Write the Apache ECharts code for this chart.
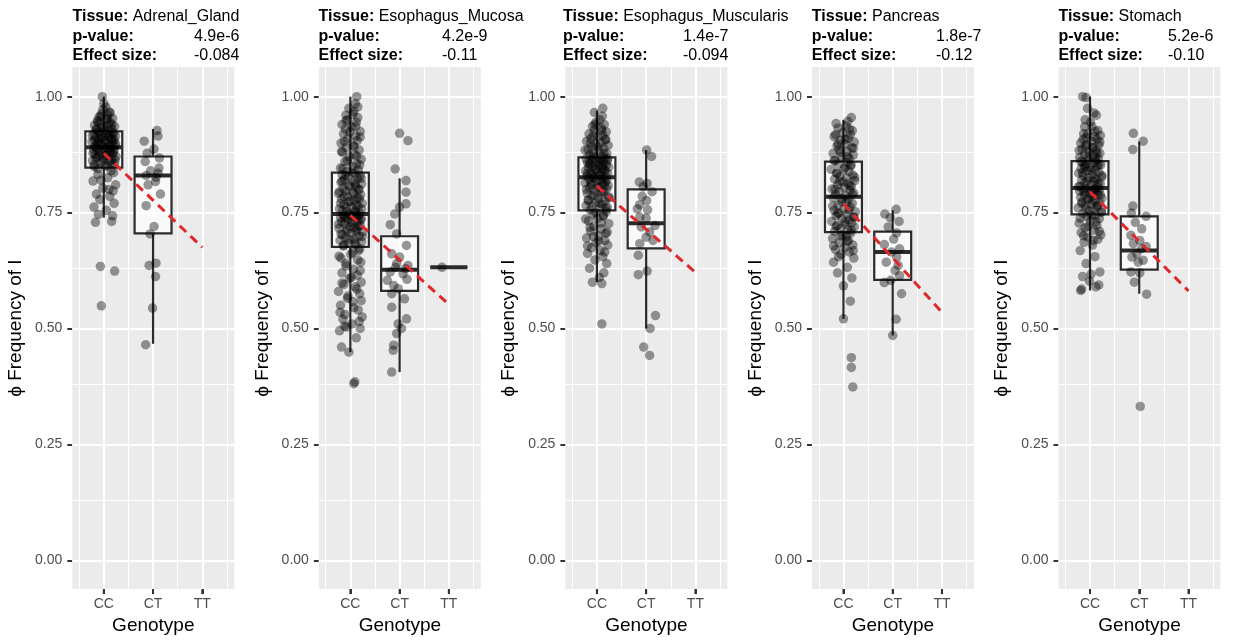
<!DOCTYPE html>
<html><head><meta charset="utf-8">
<script src="https://cdn.jsdelivr.net/npm/echarts@6/dist/echarts.min.js"></script>
<style>html,body{margin:0;padding:0;background:#fff}#c{width:1237px;height:640px}</style>
</head><body><div id="c"></div>
<script>
// ---------------- DATA ----------------
const genotypes = ['CC', 'CT', 'TT'];
const tissues = ['Adrenal_Gland', 'Esophagus_Mucosa', 'Esophagus_Muscularis', 'Pancreas', 'Stomach'];
const pValues = ['4.9e-6', '4.2e-9', '1.4e-7', '1.8e-7', '5.2e-6'];
const effectSizes = ['-0.084', '-0.11', '-0.094', '-0.12', '-0.10'];
const yTicks = [0, 0.25, 0.5, 0.75, 1];
const yMinor = [0.125, 0.375, 0.625, 0.875];
const xTicks = [1, 2, 3];
const xMinor = [0.5, 1.5, 2.5, 3.5];
const Y_MIN = -0.062, Y_MAX = 1.064, X_MIN = 0.36, X_MAX = 3.65;

// box stats: [genotype index, lower whisker, Q1, median, Q3, upper whisker]
const adrenalBoxes = [[1, 0.739, 0.847, 0.891, 0.925, 1.000], [2, 0.467, 0.705, 0.830, 0.871, 0.930]];
const mucosaBoxes = [[1, 0.449, 0.676, 0.747, 0.836, 1.000], [2, 0.406, 0.581, 0.627, 0.699, 0.824], [3, 0.632, 0.632, 0.632, 0.632, 0.632]];
const muscularisBoxes = [[1, 0.600, 0.755, 0.826, 0.869, 0.970], [2, 0.500, 0.673, 0.727, 0.800, 0.885]];
const pancreasBoxes = [[1, 0.521, 0.708, 0.784, 0.860, 0.950], [2, 0.485, 0.605, 0.665, 0.709, 0.755]];
const stomachBoxes = [[1, 0.582, 0.746, 0.803, 0.861, 1.000], [2, 0.575, 0.627, 0.668, 0.742, 0.903]];

// dashed trend line: [genotype position, value]
const adrenalFit = [[1, 0.878], [3, 0.675]];
const mucosaFit = [[1, 0.744], [3, 0.552]];
const muscularisFit = [[1, 0.807], [3, 0.621]];
const pancreasFit = [[1, 0.769], [3, 0.535]];
const stomachFit = [[1, 0.795], [3, 0.581]];

// individual samples: values and horizontal jitter offsets
const adrenalCC_y = [0.549,0.624,0.634,0.729,0.731,0.743,0.746,0.755,0.762,0.770,0.778,0.785,0.790,0.797,0.803,0.810,0.818,0.825,0.832,0.840,
0.849,0.852,0.855,0.857,0.860,0.862,0.865,0.867,0.869,0.871,0.873,0.875,0.877,0.879,0.881,0.883,0.885,0.887,0.889,0.890,
0.892,0.894,0.896,0.898,0.900,0.901,0.903,0.905,0.907,0.909,0.910,0.912,0.914,0.915,0.917,0.918,0.920,0.921,0.923,0.924,
0.927,0.929,0.931,0.934,0.936,0.938,0.940,0.943,0.945,0.948,0.950,0.953,0.956,0.960,0.963,0.967,0.972,0.978,0.985,1.000];
const adrenalCC_dx = [-0.05,0.22,-0.07,-0.17,0.16,0.18,-0.11,0.05,-0.20,0.21,-0.08,0.12,-0.15,0.19,-0.02,0.24,-0.22,0.08,-0.12,0.15,
-0.19,0.03,0.22,-0.07,0.11,-0.23,0.17,-0.01,-0.14,0.25,0.06,-0.18,0.13,-0.05,0.20,-0.10,0.09,-0.21,0.16,0.01,
-0.16,0.23,-0.04,0.10,-0.13,0.18,-0.24,0.04,0.21,-0.09,0.14,-0.17,0.00,0.24,-0.06,0.12,-0.20,0.07,0.19,-0.11,
0.02,-0.15,0.16,-0.03,0.22,-0.19,0.09,-0.08,0.13,-0.13,0.05,0.18,-0.10,0.08,-0.05,0.11,-0.02,0.04,0.00,-0.03];
const adrenalCC2_y = [0.80,0.82,0.836,0.845,0.85,0.853,0.858,0.861,0.864,0.868,0.872,0.874,0.876,0.878,0.882,0.884,0.886,0.888,0.891,0.893,
0.895,0.897,0.899,0.902,0.904,0.906,0.908,0.911,0.913,0.916,0.919,0.922,0.926,0.93,0.935,0.94,0.946,0.952,0.958,0.965];
const adrenalCC2_dx = [0.1,-0.06,0.2,-0.12,0.07,-0.2,0.15,-0.03,0.23,-0.16,0.04,-0.09,0.18,-0.22,0.12,-0.01,0.21,-0.14,0.06,-0.18,
0.14,-0.07,0.24,-0.11,0.02,-0.19,0.17,-0.04,0.09,-0.23,0.19,-0.08,0.11,-0.15,0.0,0.16,-0.12,0.07,-0.06,0.13];
const adrenalCT_y = [0.465,0.544,0.612,0.636,0.641,0.704,0.720,0.765,0.790,0.810,0.817,0.826,0.830,0.835,0.840,0.846,0.860,0.868,0.878,0.887,0.904,0.915,0.927];
const adrenalCT_dx = [-0.15,-0.01,0.05,-0.08,0.06,-0.06,0.02,-0.14,0.15,-0.10,0.05,0.06,-0.14,0.10,-0.05,0.12,-0.16,0.13,-0.12,0.02,-0.18,0.10,0.08];

const mucosaCC_y = [0.381,0.385,0.449,0.460,0.480,0.495,0.500,0.503,0.510,0.520,0.525,0.530,0.540,0.550,0.558,0.565,0.575,0.580,0.590,0.595,0.600,0.608,0.615,0.620,0.628,0.635,0.643,0.652,0.660,0.668,
0.678,0.681,0.684,0.687,0.690,0.693,0.696,0.699,0.702,0.705,0.708,0.710,0.713,0.716,0.718,0.720,0.723,0.726,0.728,0.730,0.732,0.735,0.737,0.739,0.740,0.742,0.743,0.744,0.745,0.746,
0.749,0.752,0.755,0.758,0.761,0.764,0.767,0.770,0.773,0.776,0.779,0.782,0.785,0.788,0.791,0.794,0.797,0.800,0.803,0.806,0.809,0.812,0.815,0.818,0.821,0.824,0.827,0.830,0.832,0.835,
0.838,0.842,0.846,0.850,0.855,0.860,0.865,0.870,0.875,0.880,0.885,0.890,0.895,0.900,0.905,0.910,0.915,0.920,0.925,0.930,0.935,0.940,0.945,0.950,0.955,0.960,0.968,0.975,0.985,1.000];
const mucosaCC_dx = [0.07,0.09,-0.03,-0.18,0.12,-0.22,0.20,-0.08,0.03,-0.15,0.24,-0.11,0.16,-0.2,0.05,-0.06,0.19,-0.24,0.1,-0.13,0.22,-0.02,0.14,-0.17,0.06,-0.09,0.21,-0.19,0.01,0.17,
-0.14,0.11,-0.04,0.23,-0.21,0.08,-0.1,0.18,-0.16,0.02,0.25,-0.07,0.13,-0.23,0.09,-0.01,0.2,-0.12,0.04,-0.18,0.15,-0.05,0.22,-0.2,0.07,-0.11,0.17,-0.15,0.0,0.12,
0.19,-0.08,0.1,-0.22,0.03,0.16,-0.13,0.24,-0.03,0.08,-0.18,0.14,-0.06,0.21,-0.24,0.05,-0.1,0.18,-0.15,0.11,-0.01,0.23,-0.19,0.06,-0.12,0.15,-0.04,0.2,-0.17,0.09,
-0.07,0.16,-0.2,0.04,0.13,-0.11,0.22,-0.02,0.09,-0.16,0.18,-0.08,0.06,-0.19,0.14,-0.05,0.11,-0.14,0.2,-0.1,0.03,-0.17,0.12,-0.06,0.15,-0.09,0.07,-0.03,0.1,0.13];
const mucosaCC2_y = [0.505,0.515,0.535,0.545,0.56,0.57,0.585,0.598,0.61,0.625,0.64,0.648,0.656,0.664,0.672,0.68,0.686,0.692,0.698,0.704,
0.71,0.715,0.72,0.725,0.73,0.734,0.738,0.742,0.746,0.75,0.754,0.758,0.762,0.766,0.77,0.775,0.78,0.785,0.79,0.795,
0.8,0.806,0.812,0.818,0.824,0.83,0.837,0.845,0.853,0.862,0.872,0.882,0.892,0.903,0.913,0.924,0.936,0.948,0.962,0.978];
const mucosaCC2_dx = [-0.12,0.18,-0.21,0.07,0.22,-0.05,0.13,-0.17,0.02,0.2,-0.09,0.15,-0.23,0.05,0.19,-0.14,0.09,-0.02,0.24,-0.19,
0.11,-0.07,0.17,-0.24,0.03,0.21,-0.11,0.14,-0.04,0.08,-0.16,0.23,-0.08,0.12,-0.2,0.0,0.18,-0.13,0.06,-0.22,
0.16,-0.03,0.1,-0.17,0.22,-0.1,0.04,-0.15,0.19,-0.06,0.13,-0.18,0.08,-0.12,0.2,-0.01,0.11,-0.09,0.05,0.15];
const mucosaCT_y = [0.406,0.453,0.464,0.489,0.500,0.510,0.521,0.546,0.564,0.575,0.586,0.593,0.604,0.606,0.618,0.622,0.629,0.632,0.636,0.640,0.654,0.661,0.679,0.704,0.724,0.747,0.762,0.769,0.794,0.819,0.844,0.905,0.921];
const mucosaCT_dx = [-0.16,-0.13,-0.12,-0.06,0.04,-0.03,0.14,-0.16,0.10,-0.16,-0.03,-0.12,-0.25,0.15,0.07,-0.19,0.12,-0.08,0.17,-0.06,0.00,-0.16,0.14,-0.06,-0.19,-0.10,0.00,0.13,0.13,0.13,-0.09,0.17,0.00];
const mucosaTT_y = [0.632];
const mucosaTT_dx = [-0.14];

const muscularisCC_y = [0.510,0.597,0.600,0.610,0.620,0.630,0.640,0.648,0.655,0.662,0.668,0.674,0.680,0.685,0.690,0.695,0.700,0.705,0.710,0.715,0.720,0.726,0.732,0.738,0.742,0.747,0.752,
0.756,0.759,0.762,0.765,0.768,0.771,0.774,0.777,0.780,0.783,0.786,0.789,0.792,0.795,0.798,0.801,0.804,0.806,0.808,0.810,0.812,0.814,0.816,0.818,0.820,0.822,0.824,0.825,
0.827,0.829,0.830,0.832,0.834,0.835,0.837,0.839,0.840,0.842,0.843,0.845,0.847,0.848,0.850,0.852,0.853,0.855,0.856,0.858,0.860,0.861,0.862,0.864,0.865,0.866,0.867,0.868,
0.871,0.874,0.877,0.880,0.883,0.886,0.889,0.892,0.895,0.898,0.901,0.904,0.907,0.910,0.913,0.916,0.920,0.924,0.928,0.932,0.936,0.940,0.945,0.950,0.958,0.966,0.975];
const muscularisCC_dx = [0.10,0.10,-0.09,0.05,0.14,-0.15,0.2,-0.04,0.12,-0.19,0.07,-0.11,0.22,-0.02,0.16,-0.21,0.03,0.18,-0.13,0.09,-0.06,0.24,-0.17,0.01,0.13,-0.08,0.19,
-0.14,0.06,0.21,-0.22,0.11,-0.03,0.16,-0.18,0.02,0.25,-0.1,0.08,-0.2,0.14,-0.05,0.2,-0.15,0.04,0.23,-0.12,0.1,-0.24,0.17,-0.01,0.07,-0.16,0.12,-0.07,
0.18,-0.2,0.05,-0.09,0.22,-0.13,0.09,0.0,-0.23,0.15,-0.04,0.11,-0.17,0.24,-0.08,0.03,0.19,-0.14,0.07,-0.19,0.13,-0.02,0.21,-0.11,0.06,-0.22,0.16,-0.06,
0.1,-0.15,0.2,-0.07,0.04,-0.18,0.14,-0.1,0.23,-0.03,0.08,-0.21,0.17,-0.12,0.02,0.12,-0.16,0.19,-0.05,0.09,-0.09,0.15,-0.02,0.06,0.11,-0.05,0.12];
const muscularisCC2_y = [0.665,0.678,0.688,0.698,0.708,0.718,0.728,0.736,0.744,0.75,0.758,0.764,0.77,0.776,0.782,0.788,0.794,0.8,0.805,0.81,
0.815,0.82,0.825,0.83,0.835,0.84,0.845,0.85,0.855,0.86,0.866,0.872,0.878,0.885,0.892,0.9,0.908,0.917,0.927,0.94];
const muscularisCC2_dx = [0.16,-0.19,0.04,-0.07,0.21,-0.14,0.09,-0.23,0.13,-0.02,0.19,-0.1,0.06,-0.17,0.24,-0.05,0.11,-0.21,0.01,0.15,
-0.12,0.2,-0.06,0.08,-0.19,0.17,-0.03,0.12,-0.15,0.05,0.22,-0.09,0.14,-0.24,0.03,-0.13,0.18,-0.07,0.1,-0.04];
const muscularisCT_y = [0.442,0.460,0.500,0.528,0.616,0.624,0.658,0.683,0.690,0.697,0.708,0.719,0.722,0.738,0.740,0.756,0.758,0.767,0.776,0.785,0.795,0.806,0.813,0.816,0.871,0.885];
const muscularisCT_dx = [0.07,-0.05,0.08,0.19,-0.16,0.02,-0.16,-0.13,0.14,0.00,0.07,-0.10,0.18,0.00,-0.13,0.03,-0.18,-0.13,0.01,-0.08,0.12,-0.06,0.02,-0.14,0.11,0.01];

const pancreasCC_y = [0.374,0.416,0.437,0.521,0.559,0.592,0.609,0.620,0.632,0.643,0.652,0.660,0.665,0.670,0.675,0.680,0.685,0.690,0.694,0.698,0.702,0.706,
0.710,0.713,0.716,0.719,0.722,0.725,0.728,0.731,0.734,0.737,0.740,0.743,0.746,0.749,0.752,0.755,0.758,0.762,0.766,0.770,0.774,0.778,0.782,
0.786,0.789,0.792,0.795,0.798,0.801,0.804,0.807,0.810,0.813,0.816,0.819,0.822,0.825,0.828,0.831,0.835,0.839,0.843,0.847,0.851,0.855,0.858,
0.862,0.866,0.870,0.874,0.878,0.882,0.886,0.890,0.894,0.898,0.902,0.906,0.910,0.914,0.918,0.922,0.927,0.932,0.937,0.942,0.947,0.955];
const pancreasCC_dx = [0.19,0.16,0.16,0.0,0.14,0.0,0.17,-0.12,0.08,-0.2,0.21,-0.05,0.12,-0.16,0.03,0.19,-0.09,0.1,-0.22,0.06,-0.02,0.15,
-0.18,0.09,-0.06,0.22,-0.13,0.04,0.17,-0.24,0.11,-0.03,0.2,-0.15,0.07,-0.09,0.24,-0.19,0.01,0.14,-0.11,0.18,-0.04,0.1,-0.21,
0.05,-0.16,0.21,-0.08,0.13,-0.23,0.02,0.16,-0.12,0.09,-0.01,0.23,-0.18,0.06,-0.07,0.19,-0.14,0.11,-0.25,0.03,0.15,-0.1,0.08,
-0.17,0.12,-0.04,0.2,-0.21,0.07,-0.09,0.17,-0.13,0.04,0.22,-0.06,0.1,-0.19,0.14,-0.02,0.18,-0.11,0.05,-0.15,0.09,0.16];
const pancreasCC2_y = [0.655,0.668,0.678,0.688,0.7,0.712,0.72,0.73,0.74,0.748,0.756,0.764,0.772,0.78,0.79,0.8,0.808,0.817,0.826,0.835,
0.844,0.853,0.862,0.871,0.88,0.889,0.898,0.908,0.918,0.93];
const pancreasCC2_dx = [-0.1,0.2,-0.2,0.08,-0.05,0.16,-0.15,0.03,0.22,-0.12,0.11,-0.22,0.06,-0.03,0.18,-0.17,0.13,-0.08,0.23,-0.13,
0.01,0.15,-0.19,0.09,-0.06,0.2,-0.11,0.04,-0.16,0.12];
const pancreasCT_y = [0.485,0.520,0.575,0.599,0.604,0.614,0.625,0.636,0.643,0.654,0.665,0.672,0.681,0.693,0.706,0.719,0.731,0.739,0.747,0.757];
const pancreasCT_dx = [0.00,0.07,0.18,-0.17,-0.04,0.14,0.05,0.11,-0.13,0.08,-0.02,0.14,-0.17,0.02,0.08,-0.09,0.13,-0.05,-0.16,0.07];

const stomachCC_y = [0.582,0.585,0.590,0.594,0.602,0.612,0.617,0.622,0.640,0.655,0.668,0.680,0.686,0.692,0.697,0.702,0.707,0.712,0.717,0.722,0.727,0.732,0.737,0.741,0.744,
0.748,0.751,0.754,0.757,0.760,0.763,0.766,0.768,0.771,0.773,0.776,0.778,0.781,0.783,0.786,0.788,0.790,0.792,0.794,0.796,0.798,0.799,0.800,0.801,0.802,
0.805,0.807,0.810,0.812,0.815,0.817,0.820,0.822,0.825,0.827,0.830,0.832,0.835,0.837,0.840,0.842,0.845,0.847,0.849,0.851,0.853,0.855,0.857,0.859,0.860,
0.863,0.866,0.869,0.872,0.875,0.878,0.881,0.884,0.887,0.890,0.893,0.896,0.900,0.904,0.908,0.912,0.916,0.920,0.925,0.935,0.950,0.965,0.975,0.998,1.000];
const stomachCC_dx = [-0.19,-0.17,0.12,0.18,-0.01,-0.15,0.02,0.2,-0.08,0.1,-0.2,0.05,-0.12,0.16,-0.04,0.22,-0.18,0.08,-0.1,0.14,-0.22,0.01,0.19,-0.06,0.11,
-0.14,0.23,-0.02,0.07,-0.24,0.15,-0.09,0.03,0.2,-0.16,0.1,-0.05,0.24,-0.19,0.06,-0.11,0.17,-0.01,0.12,-0.21,0.04,0.19,-0.13,0.09,-0.07,
0.16,-0.2,0.02,0.21,-0.1,0.08,-0.17,0.13,-0.03,0.24,-0.14,0.05,-0.23,0.18,-0.06,0.1,-0.18,0.0,0.15,-0.12,0.22,-0.08,0.07,-0.15,0.12,
-0.04,0.17,-0.21,0.09,-0.11,0.2,-0.02,0.13,-0.16,0.06,-0.09,0.18,-0.19,0.03,0.14,-0.07,0.21,-0.13,0.1,0.04,-0.1,0.08,-0.05,-0.08,-0.15];
const stomachCC2_y = [0.69,0.7,0.71,0.72,0.73,0.738,0.745,0.752,0.758,0.764,0.77,0.776,0.782,0.788,0.794,0.8,0.806,0.812,0.818,0.824,
0.83,0.836,0.842,0.848,0.854,0.86,0.866,0.872,0.878,0.884,0.89,0.896,0.902,0.908,0.914,0.92,0.927,0.935,0.945,0.96];
const stomachCC2_dx = [0.07,-0.13,0.19,-0.04,0.12,-0.2,0.03,0.23,-0.09,0.15,-0.17,0.05,-0.02,0.21,-0.12,0.1,-0.23,0.17,-0.06,0.08,
0.24,-0.15,0.02,-0.1,0.18,-0.19,0.11,-0.03,0.14,-0.22,0.06,-0.08,0.2,-0.14,0.09,-0.05,0.16,-0.11,0.01,0.13];
const stomachCT_y = [0.332,0.574,0.600,0.620,0.622,0.643,0.647,0.654,0.661,0.672,0.677,0.683,0.690,0.701,0.715,0.729,0.742,0.749,0.764,0.886,0.904,0.921];
const stomachCT_dx = [0.02,0.15,-0.10,0.01,-0.17,-0.02,0.08,-0.15,-0.05,0.05,0.14,-0.12,0.01,-0.17,0.05,-0.08,0.14,-0.16,-0.13,-0.13,0.08,-0.12];

// ---------------- LAYOUT / STYLE ----------------
const FONT = "'Liberation Sans', Arial, Helvetica, sans-serif";
const PANEL_LEFT0 = 72.3, PANEL_STEP = 246.55, PANEL_W = 162, PANEL_TOP = 67, PANEL_H = 523;
const TITLE_X = [72.5, 318.5, 563, 811.8, 1058.4];
const VALUE_X = [194, 442, 683, 936, 1168];
const TITLE_Y = [16.5, 36.5, 56];

const panels = [
  { boxes: adrenalBoxes, fit: adrenalFit, groups: [[1, adrenalCC_y, adrenalCC_dx], [1, adrenalCC2_y, adrenalCC2_dx], [2, adrenalCT_y, adrenalCT_dx]] },
  { boxes: mucosaBoxes, fit: mucosaFit, groups: [[1, mucosaCC_y, mucosaCC_dx], [1, mucosaCC2_y, mucosaCC2_dx], [2, mucosaCT_y, mucosaCT_dx], [3, mucosaTT_y, mucosaTT_dx]] },
  { boxes: muscularisBoxes, fit: muscularisFit, groups: [[1, muscularisCC_y, muscularisCC_dx], [1, muscularisCC2_y, muscularisCC2_dx], [2, muscularisCT_y, muscularisCT_dx]] },
  { boxes: pancreasBoxes, fit: pancreasFit, groups: [[1, pancreasCC_y, pancreasCC_dx], [1, pancreasCC2_y, pancreasCC2_dx], [2, pancreasCT_y, pancreasCT_dx]] },
  { boxes: stomachBoxes, fit: stomachFit, groups: [[1, stomachCC_y, stomachCC_dx], [1, stomachCC2_y, stomachCC2_dx], [2, stomachCT_y, stomachCT_dx]] }
];

function renderBox(params, api) {
  const x = api.value(0);
  const lo = api.coord([x, api.value(1)]);
  const q1 = api.coord([x, api.value(2)]);
  const md = api.coord([x, api.value(3)]);
  const q3 = api.coord([x, api.value(4)]);
  const hi = api.coord([x, api.value(5)]);
  const w = api.size([0.75, 0])[0];
  const xl = md[0] - w / 2;
  const stroke = '#2B2B2B';
  return {
    type: 'group',
    children: [
      { type: 'line', shape: { x1: lo[0], y1: lo[1], x2: q1[0], y2: q1[1] }, style: { stroke, lineWidth: 2.2 } },
      { type: 'line', shape: { x1: q3[0], y1: q3[1], x2: hi[0], y2: hi[1] }, style: { stroke, lineWidth: 2.2 } },
      { type: 'rect', shape: { x: xl, y: q3[1], width: w, height: q1[1] - q3[1] }, style: { fill: 'rgba(255,255,255,0.7)', stroke, lineWidth: 2.2 } },
      { type: 'line', shape: { x1: xl, y1: md[1], x2: xl + w, y2: md[1] }, style: { stroke, lineWidth: 4 } }
    ]
  };
}

const grid = [], xAxis = [], yAxis = [], series = [], graphic = [];
panels.forEach((p, i) => {
  const left = PANEL_LEFT0 + PANEL_STEP * i;
  grid.push({ left, top: PANEL_TOP, width: PANEL_W, height: PANEL_H, show: true, backgroundColor: '#EBEBEB', borderWidth: 0 });
  xAxis.push({
    gridIndex: i, type: 'value', min: X_MIN, max: X_MAX, position: 'bottom',
    axisLine: { show: false, onZero: false }, splitLine: { show: false },
    axisTick: { show: true, customValues: xTicks, length: 5, lineStyle: { color: '#333333', width: 2 } },
    axisLabel: { customValues: xTicks, formatter: v => genotypes[Math.round(v) - 1], color: '#4D4D4D', fontSize: 14, margin: 8, fontFamily: FONT },
    name: 'Genotype', nameLocation: 'middle', nameGap: 25,
    nameTextStyle: { fontSize: 19, color: '#000', fontFamily: FONT }
  });
  yAxis.push({
    gridIndex: i, type: 'value', min: Y_MIN, max: Y_MAX, position: 'left',
    axisLine: { show: false, onZero: false }, splitLine: { show: false },
    axisTick: { show: true, customValues: yTicks, length: 5, lineStyle: { color: '#333333', width: 2 } },
    axisLabel: { customValues: yTicks, formatter: v => v.toFixed(2), color: '#4D4D4D', fontSize: 14, margin: 10, fontFamily: FONT },
    name: 'ϕ Frequency of I', nameLocation: 'middle', nameGap: 47, nameRotate: 90,
    nameTextStyle: { fontSize: 19, color: '#000', fontFamily: FONT }
  });
  series.push({
    type: 'custom', xAxisIndex: i, yAxisIndex: i, z: 2, clip: false,
    renderItem: renderBox, data: p.boxes, encode: { x: 0, y: [1, 2, 3, 4, 5] }, silent: true
  });
  // x-axis tick marks anchored at the axis minimum
  series.push({
    type: 'scatter', xAxisIndex: i, yAxisIndex: i, z: 6, silent: true, clip: false,
    symbol: 'rect', symbolSize: [2, 5], symbolOffset: [0, 2.5],
    data: xTicks.map(v => [v, Y_MIN]),
    itemStyle: { color: '#333333', opacity: 1 }
  });
  const pts = [];
  p.groups.forEach(g => {
    const c = g[0], ys = g[1], dx = g[2];
    ys.forEach((v, k) => pts.push([c + (dx[k] || 0), v]));
  });
  series.push({
    type: 'scatter', xAxisIndex: i, yAxisIndex: i, z: 3, silent: true,
    symbol: 'circle', symbolSize: 9.5, data: pts,
    itemStyle: { color: 'rgba(0,0,0,0.5)', borderWidth: 0 }
  });
  const gl = [];
  xTicks.forEach(v => gl.push({ xAxis: v, lineStyle: { color: '#FFFFFF', width: 2, type: 'solid' } }));
  xMinor.forEach(v => gl.push({ xAxis: v, lineStyle: { color: '#FFFFFF', width: 1, type: 'solid' } }));
  yTicks.forEach(v => gl.push({ yAxis: v, lineStyle: { color: '#FFFFFF', width: 2, type: 'solid' } }));
  yMinor.forEach(v => gl.push({ yAxis: v, lineStyle: { color: '#FFFFFF', width: 1, type: 'solid' } }));
  series.push({
    type: 'line', xAxisIndex: i, yAxisIndex: i, z: 5, silent: true,
    data: p.fit, symbol: 'none',
    lineStyle: { color: '#E0282B', width: 3, type: [9, 6] },
    markLine: { silent: true, z: 1, symbol: ['none', 'none'], animation: false, label: { show: false },
      lineStyle: { type: 'solid', color: '#fff' }, emphasis: { disabled: true }, data: gl }
  });
  // title block
  const tx = TITLE_X[i];
  graphic.push({ type: 'text', x: tx, y: TITLE_Y[0], style: { text: '{b|Tissue:} ' + tissues[i], rich: { b: { fontWeight: 'bold', fontSize: 16, fontFamily: FONT, fill: '#000' } }, fontSize: 16, fontFamily: FONT, fill: '#000', verticalAlign: 'middle' } });
  graphic.push({ type: 'text', x: tx, y: TITLE_Y[1], style: { text: 'p-value:', fontWeight: 'bold', fontSize: 16, fontFamily: FONT, fill: '#000', verticalAlign: 'middle' } });
  graphic.push({ type: 'text', x: VALUE_X[i], y: TITLE_Y[1], style: { text: pValues[i], fontSize: 16, fontFamily: FONT, fill: '#000', verticalAlign: 'middle' } });
  graphic.push({ type: 'text', x: tx, y: TITLE_Y[2], style: { text: 'Effect size:', fontWeight: 'bold', fontSize: 16, fontFamily: FONT, fill: '#000', verticalAlign: 'middle' } });
  graphic.push({ type: 'text', x: VALUE_X[i], y: TITLE_Y[2], style: { text: effectSizes[i], fontSize: 16, fontFamily: FONT, fill: '#000', verticalAlign: 'middle' } });
});

const chart = echarts.init(document.getElementById('c'), null, { renderer: 'canvas' });
chart.setOption({
  animation: false,
  backgroundColor: '#FFFFFF',
  textStyle: { fontFamily: FONT },
  grid, xAxis, yAxis, series, graphic
});
</script>
</body></html>
